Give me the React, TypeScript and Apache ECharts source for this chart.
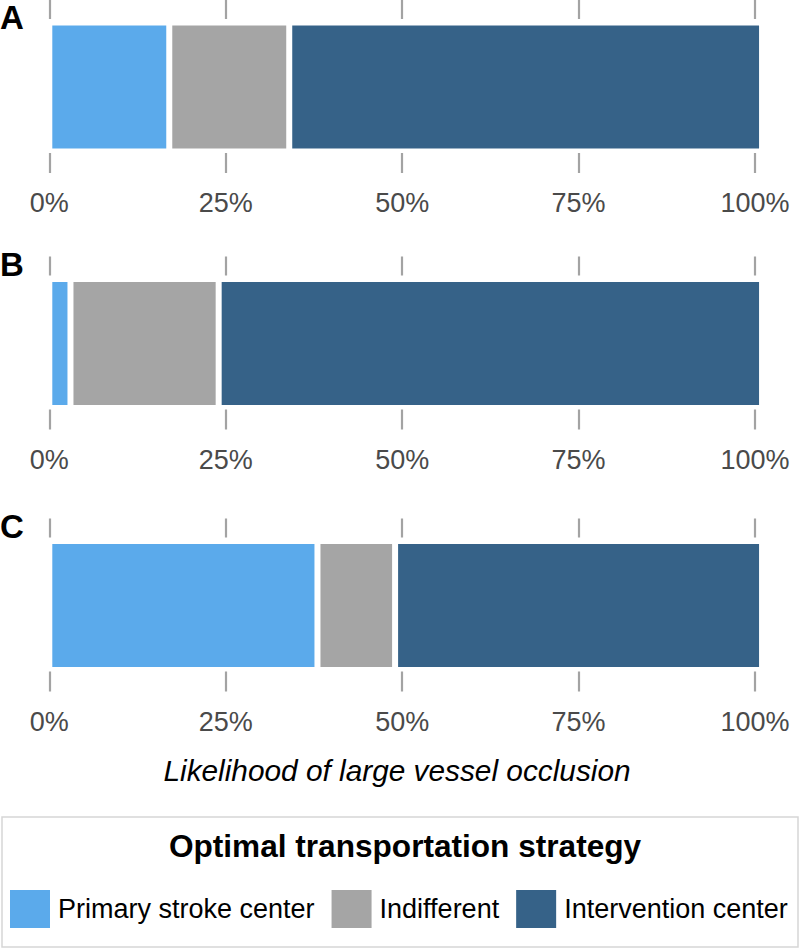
import React, { useEffect, useRef } from "react";
import * as echarts from "echarts";

const panels = ["A", "B", "C"];
const seriesNames = ["Primary stroke center", "Indifferent", "Intervention center"];
const primary = [17, 3, 38];
const indifferent = [17, 21, 11];
const intervention = [67, 77, 52];
const colors = ["#5BAAEB", "#A5A5A5", "#366288"];
const axisTitle = "Likelihood of large vessel occlusion";
const legendTitle = "Optimal transportation strategy";

const FONT = '"Liberation Sans", Arial, Helvetica, sans-serif';
const offsets = [0, 256.5, 518.5];
const letterY = [17, 264, 526];

export default function App() {
  const ref = useRef<HTMLDivElement>(null);
  useEffect(() => {
    document.body.style.margin = "0";
    if (!ref.current) return;
    const chart = echarts.init(ref.current, null, { renderer: "svg" });
    const values = [primary, indifferent, intervention];
    const grids: any[] = [];
    const xAxes: any[] = [];
    const yAxes: any[] = [];
    const series: any[] = [];
    panels.forEach((p, k) => {
      const off = offsets[k];
      grids.push({ left: 49.3, right: 45, top: 22.5 + off, height: 129 });
      xAxes.push({
        type: "value",
        gridIndex: k,
        position: "bottom",
        min: 0,
        max: 100,
        interval: 25,
        offset: 1.5,
        axisLine: { show: false },
        splitLine: { show: false },
        axisTick: { show: true, length: 20, lineStyle: { color: "#a3a3a3", width: 2.2 } },
        axisLabel: {
          formatter: "{value}%",
          margin: 50,
          verticalAlign: "middle",
          fontSize: 27,
          fontFamily: FONT,
          color: "#4a4a4a",
        },
      });
      xAxes.push({
        type: "value",
        gridIndex: k,
        position: "top",
        min: 0,
        max: 100,
        interval: 25,
        offset: 3.5,
        axisLine: { show: false },
        splitLine: { show: false },
        axisTick: { show: true, length: 19, lineStyle: { color: "#a3a3a3", width: 2.2 } },
        axisLabel: { show: false },
      });
      yAxes.push({
        type: "category",
        gridIndex: k,
        data: [p],
        show: false,
      });
      seriesNames.forEach((name, s) => {
        series.push({
          type: "bar",
          name,
          stack: "panel" + k,
          xAxisIndex: 2 * k,
          yAxisIndex: k,
          barWidth: "100%",
          clip: false,
          data: [values[s][k]],
          itemStyle: { color: colors[s], borderColor: "#ffffff", borderWidth: 3 },
          emphasis: { disabled: true },
        });
      });
    });

    const graphics: any[] = [];
    panels.forEach((p, k) => {
      graphics.push({
        type: "text",
        x: 0,
        y: letterY[k],
        style: {
          text: p,
          fontSize: 33,
          fontWeight: "bold",
          fontFamily: FONT,
          fill: "#000",
          textAlign: "left",
          textVerticalAlign: "middle",
          align: "left",
          verticalAlign: "middle",
        },
      });
    });
    graphics.push({
      type: "text",
      x: 397,
      y: 770,
      style: {
        text: axisTitle,
        fontSize: 29.8,
        fontStyle: "italic",
        fontFamily: FONT,
        fill: "#000",
        textAlign: "center",
        textVerticalAlign: "middle",
        align: "center",
        verticalAlign: "middle",
      },
    });
    graphics.push({
      type: "rect",
      shape: { x: 2, y: 817, width: 796, height: 130 },
      style: { fill: "none", stroke: "#d6d6d6", lineWidth: 1.5 },
    });
    graphics.push({
      type: "text",
      x: 405,
      y: 846,
      style: {
        text: legendTitle,
        fontSize: 31.6,
        fontWeight: "bold",
        fontFamily: FONT,
        fill: "#000",
        textAlign: "center",
        textVerticalAlign: "middle",
        align: "center",
        verticalAlign: "middle",
      },
    });

    chart.setOption({
      animation: false,
      backgroundColor: "#ffffff",
      grid: grids,
      xAxis: xAxes,
      yAxis: yAxes,
      series,
      legend: {
        data: seriesNames,
        left: 10,
        top: 890,
        padding: 0,
        itemWidth: 40,
        itemHeight: 38,
        itemGap: 17,
        icon: "rect",
        selectedMode: false,
        itemStyle: { borderWidth: 0 },
        textStyle: { fontSize: 27, color: "#000", fontFamily: FONT, padding: [0, 0, 0, 3] },
      },
      graphic: graphics,
    });
    return () => chart.dispose();
  }, []);
  return <div ref={ref} style={{ width: 800, height: 948 }} />;
}
